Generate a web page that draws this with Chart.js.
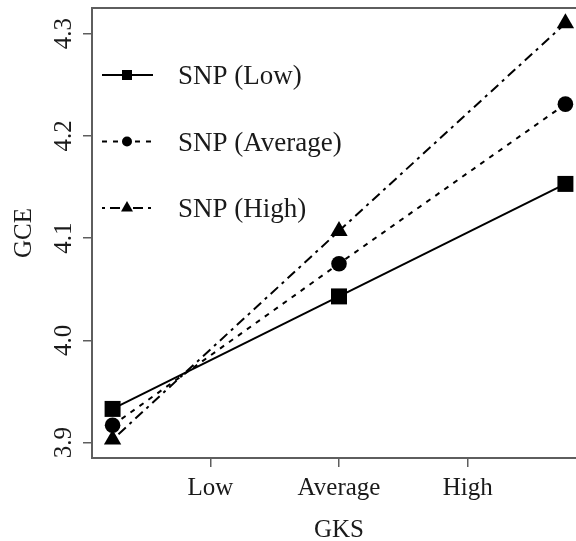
<!DOCTYPE html>
<html><head><meta charset="utf-8">
<script src="https://cdn.jsdelivr.net/npm/chart.js@4/dist/chart.umd.min.js"></script>
<style>
html,body{margin:0;padding:0;overflow:hidden;background:#fff;}
#wrap{position:relative;width:600px;height:541px;}
</style></head><body>
<div id="wrap"><canvas id="c" width="600" height="541"></canvas></div>
<script>
// ---- data ----
const tickLabels = ['Low', 'Average', 'High'];
const tickValues = [-1, 0, 1];
const gksLevels = [-1.76, 0, 1.76];
const seriesNames = ['SNP (Low)', 'SNP (Average)', 'SNP (High)'];
const snpLow = [3.933, 4.043, 4.153];
const snpAverage = [3.917, 4.075, 4.231];
const snpHigh = [3.903, 4.107, 4.310];
const yTicks = [3.9, 4.0, 4.1, 4.2, 4.3];

// ---- styles ----
const FONT = "'Liberation Serif', 'Times New Roman', serif";
const AXIS = '#5e5e5e';
const TXT = '#1a1a1a';
const styles = [
  {pointStyle: 'rect', radius: 11.3, dash: [], legendSize: 10},
  {pointStyle: 'circle', radius: 7.8, dash: [5, 6], legendSize: 10},
  {pointStyle: 'triangle', radius: 10, dash: [3, 5, 10, 5], legendSize: 12}
];
const series = [snpLow, snpAverage, snpHigh];

const datasets = series.map((vals, i) => ({
  label: seriesNames[i],
  data: gksLevels.map((x, j) => ({x: x, y: vals[j]})),
  borderColor: '#000',
  backgroundColor: '#000',
  borderWidth: 2,
  borderDash: styles[i].dash,
  pointStyle: styles[i].pointStyle,
  pointRadius: styles[i].radius,
  pointHoverRadius: styles[i].radius,
  pointBackgroundColor: '#000',
  pointBorderColor: '#000',
  pointBorderWidth: 0,
  tension: 0,
  clip: false
}));

const boxPlugin = {
  id: 'box',
  afterDraw(chart) {
    const {ctx, chartArea: a} = chart;
    ctx.save();
    ctx.strokeStyle = AXIS;
    ctx.lineWidth = 2;
    ctx.beginPath();
    ctx.moveTo(a.left - 1, a.top);
    ctx.lineTo(a.right + 1, a.top);
    ctx.moveTo(a.right, a.top);
    ctx.lineTo(a.right, a.bottom);
    ctx.stroke();
    ctx.restore();
  }
};

const legendPlugin = {
  id: 'rlegend',
  afterDraw(chart) {
    const {ctx, chartArea: a} = chart;
    const x0 = a.left + 10, x1 = a.left + 61, xm = a.left + 35, xt = a.left + 86;
    const baseline0 = a.top + 76, step = 66.5;
    ctx.save();
    chart.data.datasets.forEach((ds, i) => {
      const st = styles[i];
      const yb = baseline0 + i * step;
      const ym = yb - 9;
      ctx.strokeStyle = '#000';
      ctx.fillStyle = '#000';
      ctx.lineWidth = 2;
      ctx.setLineDash(st.dash);
      ctx.beginPath();
      ctx.moveTo(x0, ym); ctx.lineTo(x1, ym);
      ctx.stroke();
      ctx.setLineDash([]);
      const s = st.legendSize;
      ctx.beginPath();
      if (st.pointStyle === 'rect') {
        ctx.rect(xm - s / 2, ym - s / 2, s, s);
      } else if (st.pointStyle === 'circle') {
        ctx.arc(xm, ym, s / 2, 0, Math.PI * 2);
      } else {
        const h = s * Math.sqrt(3) / 2;
        ctx.moveTo(xm, ym - h * 2 / 3);
        ctx.lineTo(xm + s / 2, ym + h / 3);
        ctx.lineTo(xm - s / 2, ym + h / 3);
        ctx.closePath();
      }
      ctx.fill();
      ctx.font = '27px ' + FONT;
      ctx.fillStyle = TXT;
      ctx.textAlign = 'left';
      ctx.textBaseline = 'alphabetic';
      ctx.fillText(ds.label, xt, yb);
    });
    ctx.restore();
  }
};

new Chart(document.getElementById('c'), {
  type: 'line',
  data: {datasets: datasets},
  options: {
    responsive: false,
    animation: false,
    events: [],
    layout: {autoPadding: false, padding: {top: 8, right: 14, left: 0, bottom: 0}},
    plugins: {legend: {display: false}, tooltip: {enabled: false}, title: {display: false}},
    scales: {
      x: {
        type: 'linear',
        min: -1.92,
        max: 1.92,
        afterBuildTicks: s => { s.ticks = tickValues.map(v => ({value: v})); },
        afterFit: s => { s.height = 83; s.paddingLeft = 0; s.paddingRight = 0; },
        ticks: {
          callback: v => tickLabels[tickValues.indexOf(v)],
          font: {family: FONT, size: 25, lineHeight: 1},
          color: TXT,
          padding: 9,
          maxRotation: 0,
          minRotation: 0,
          autoSkip: false
        },
        grid: {display: true, drawOnChartArea: false, drawTicks: true, tickLength: 9, color: AXIS, lineWidth: 1.5},
        border: {display: true, color: AXIS, width: 2},
        title: {display: true, text: 'GKS', color: TXT, font: {family: FONT, size: 25, lineHeight: 1}, padding: {top: 0, bottom: -2}}
      },
      y: {
        type: 'linear',
        min: 3.885,
        max: 4.325,
        afterBuildTicks: s => { s.ticks = yTicks.map(v => ({value: v})); },
        afterFit: s => { s.width = 92; s.paddingTop = 0; s.paddingBottom = 0; },
        ticks: {
          callback: v => v.toFixed(1),
          font: {family: FONT, size: 25, lineHeight: 1},
          color: TXT,
          padding: 3,
          minRotation: 90,
          maxRotation: 90,
          crossAlign: 'center',
          autoSkip: false
        },
        grid: {display: true, drawOnChartArea: false, drawTicks: true, tickLength: 9, color: AXIS, lineWidth: 1.5},
        border: {display: true, color: AXIS, width: 2},
        title: {display: true, text: 'GCE', color: TXT, font: {family: FONT, size: 25, lineHeight: 1}, padding: {top: 12, bottom: 0}}
      }
    }
  },
  plugins: [boxPlugin, legendPlugin]
});
</script>
</body></html>
